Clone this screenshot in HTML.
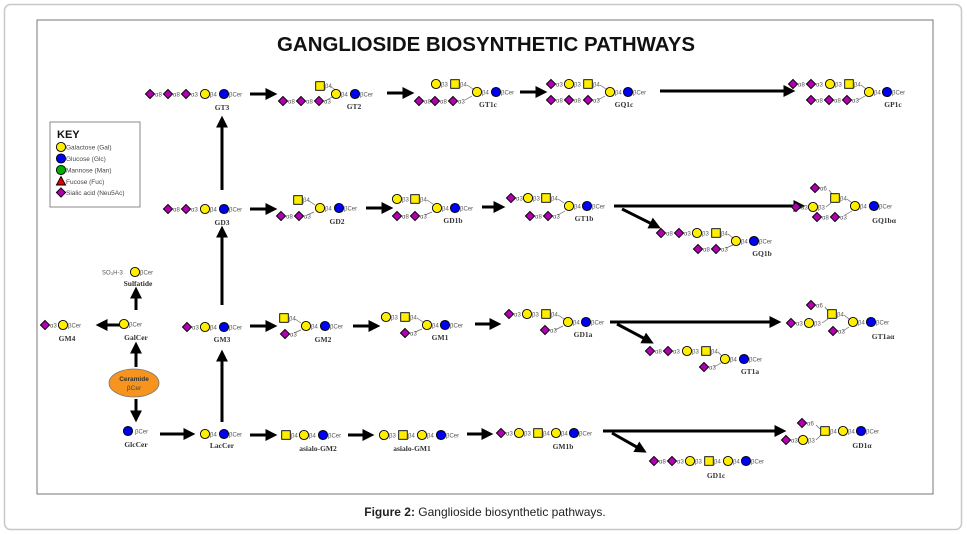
<!DOCTYPE html>
<html><head><meta charset="utf-8"><style>
html,body{margin:0;padding:0;background:#fff;}
svg{display:block;}
.l{font-family:"Liberation Sans",sans-serif;font-size:6px;fill:#555;}
.n{font-family:"Liberation Serif",serif;font-size:7.5px;font-weight:bold;fill:#333;}
.k{font-family:"Liberation Sans",sans-serif;font-size:6.5px;fill:#444;}
.ar{stroke:#000;stroke-width:3;fill:none;marker-end:url(#ah);}
.c{stroke:#666;stroke-width:0.7;fill:none;}
</style></head><body>
<svg width="967" height="534" viewBox="0 0 967 534" xmlns="http://www.w3.org/2000/svg">
<defs>
<marker id="ah" markerWidth="4" markerHeight="4" refX="2.2" refY="2" orient="auto" markerUnits="strokeWidth"><path d="M0,0 L4,2 L0,4 z" fill="#000"/></marker>
<g id="Y"><circle r="4.6" fill="#ffee00" stroke="#000" stroke-width="0.9"/></g>
<g id="B"><circle r="4.6" fill="#0000f0" stroke="#000" stroke-width="0.9"/></g>
<g id="G"><circle r="4.6" fill="#00b000" stroke="#000" stroke-width="0.9"/></g>
<g id="S"><rect x="-4.3" y="-4.3" width="8.6" height="8.6" fill="#ffee00" stroke="#000" stroke-width="0.9"/></g>
<g id="D"><path d="M0,-4.6 L4.6,0 L0,4.6 L-4.6,0 z" fill="#b000b0" stroke="#000" stroke-width="0.9"/></g>
<g id="T"><path d="M0,-4.6 L4.6,4 L-4.6,4 z" fill="#e00000" stroke="#000" stroke-width="0.9"/></g>
</defs>
<rect x="4.5" y="4.5" width="957" height="525" rx="6" fill="#fff" stroke="#c8c8c8" stroke-width="1.5"/>
<rect x="37" y="20" width="896" height="474" fill="#fff" stroke="#777" stroke-width="1"/>
<text x="486" y="51" text-anchor="middle" textLength="418" lengthAdjust="spacingAndGlyphs" font-family="Liberation Sans,sans-serif" font-weight="bold" font-size="20" fill="#111">GANGLIOSIDE BIOSYNTHETIC PATHWAYS</text>
<text x="485" y="516" text-anchor="middle" font-family="Liberation Sans,sans-serif" font-size="12" fill="#222"><tspan font-weight="bold">Figure 2:</tspan> Ganglioside biosynthetic pathways.</text>

<!-- KEY -->
<rect x="50" y="122" width="90" height="85" fill="#fff" stroke="#888" stroke-width="1"/>
<text x="57" y="138" font-family="Liberation Sans,sans-serif" font-weight="bold" font-size="11" fill="#111">KEY</text>
<use href="#Y" x="61" y="147"/><text class="k" x="66" y="149.5">Galactose (Gal)</text>
<use href="#B" x="61" y="158.5"/><text class="k" x="66" y="161">Glucose (Glc)</text>
<use href="#G" x="61" y="170"/><text class="k" x="66" y="172.5">Mannose (Man)</text>
<use href="#T" x="61" y="181"/><text class="k" x="66" y="184">Fucose (Fuc)</text>
<use href="#D" x="61" y="192.5"/><text class="k" x="66" y="195">Sialic acid (Neu5Ac)</text>

<!-- arrows -->
<line class="ar" x1="250" y1="94" x2="272" y2="94"/>
<line class="ar" x1="387" y1="93" x2="409" y2="93"/>
<line class="ar" x1="520" y1="92" x2="542" y2="92"/>
<line class="ar" x1="660" y1="91" x2="790" y2="91"/>
<line class="ar" x1="250" y1="209" x2="272" y2="209"/>
<line class="ar" x1="366" y1="208" x2="388" y2="208"/>
<line class="ar" x1="482" y1="207" x2="500" y2="207"/>
<line class="ar" x1="614" y1="206" x2="800" y2="206"/>
<line class="ar" x1="622" y1="209" x2="656" y2="226"/>
<line class="ar" x1="250" y1="326" x2="272" y2="326"/>
<line class="ar" x1="353" y1="326" x2="375" y2="326"/>
<line class="ar" x1="475" y1="324" x2="496" y2="324"/>
<line class="ar" x1="610" y1="322" x2="776" y2="322"/>
<line class="ar" x1="617" y1="324" x2="649" y2="341"/>
<line class="ar" x1="250" y1="435" x2="272" y2="435"/>
<line class="ar" x1="348" y1="435" x2="369" y2="435"/>
<line class="ar" x1="467" y1="434" x2="488" y2="434"/>
<line class="ar" x1="603" y1="431" x2="781" y2="431"/>
<line class="ar" x1="612" y1="433" x2="642" y2="450"/>
<line class="ar" x1="160" y1="434" x2="190" y2="434"/>
<line class="ar" x1="222" y1="190" x2="222" y2="121"/>
<line class="ar" x1="222" y1="305" x2="222" y2="231"/>
<line class="ar" x1="222" y1="422" x2="222" y2="355"/>
<line class="ar" x1="123" y1="325" x2="101" y2="325"/>
<line class="ar" x1="136" y1="310" x2="136" y2="292"/>
<line class="ar" x1="136" y1="367" x2="136" y2="347"/>
<line class="ar" x1="136" y1="399" x2="136" y2="417"/>

<!-- Ceramide -->
<ellipse cx="134" cy="383" rx="25" ry="14" fill="#f7941d" stroke="#777" stroke-width="0.8"/>
<text x="134" y="381" text-anchor="middle" font-family="Liberation Sans,sans-serif" font-weight="bold" font-size="6.5" fill="#333">Ceramide</text>
<text x="134" y="390" text-anchor="middle" font-family="Liberation Sans,sans-serif" font-size="6.5" fill="#444">βCer</text>

<!-- GT3 -->
<use href="#D" x="150" y="94"/><text class="l" x="155" y="96.5">α8</text>
<use href="#D" x="168" y="94"/><text class="l" x="173" y="96.5">α8</text>
<use href="#D" x="186" y="94"/><text class="l" x="191" y="96.5">α3</text>
<use href="#Y" x="205" y="94"/><text class="l" x="210" y="96.5">β4</text>
<use href="#B" x="224" y="94"/><text class="l" x="229" y="96.5">βCer</text>
<text class="n" x="222" y="110" text-anchor="middle">GT3</text>

<!-- GT2 -->
<use href="#S" x="320" y="86"/><text class="l" x="325" y="88">β4</text>
<path class="c" d="M331,87 L336,90"/><path class="c" d="M325,101 L332,97"/>
<use href="#D" x="283" y="101"/><text class="l" x="288" y="103.5">α8</text>
<use href="#D" x="301" y="101"/><text class="l" x="306" y="103.5">α8</text>
<use href="#D" x="319" y="101"/><text class="l" x="324" y="103.5">α3</text>
<use href="#Y" x="336" y="94"/><text class="l" x="341" y="96.5">β4</text>
<use href="#B" x="355" y="94"/><text class="l" x="360" y="96.5">βCer</text>
<text class="n" x="354" y="109" text-anchor="middle">GT2</text>

<!-- GT1c -->
<use href="#Y" x="436" y="84"/><text class="l" x="441" y="86.5">β3</text>
<use href="#S" x="455" y="84"/><text class="l" x="460" y="86.5">β4</text>
<path class="c" d="M467,85 L473,89"/><path class="c" d="M465,100 L472,96"/>
<use href="#D" x="419" y="101"/><text class="l" x="424" y="103.5">α8</text>
<use href="#D" x="435" y="101"/><text class="l" x="440" y="103.5">α8</text>
<use href="#D" x="453" y="101"/><text class="l" x="458" y="103.5">α3</text>
<use href="#Y" x="477" y="92"/><text class="l" x="482" y="94.5">β4</text>
<use href="#B" x="496" y="92"/><text class="l" x="501" y="94.5">βCer</text>
<text class="n" x="488" y="107" text-anchor="middle">GT1c</text>

<!-- GQ1c -->
<use href="#D" x="551" y="84"/><text class="l" x="556" y="86.5">α3</text>
<use href="#Y" x="569" y="84"/><text class="l" x="574" y="86.5">β3</text>
<use href="#S" x="588" y="84"/><text class="l" x="593" y="86.5">β4</text>
<path class="c" d="M600,85 L606,89"/><path class="c" d="M598,100 L605,96"/>
<use href="#D" x="551" y="100"/><text class="l" x="556" y="102.5">α8</text>
<use href="#D" x="569" y="100"/><text class="l" x="574" y="102.5">α8</text>
<use href="#D" x="588" y="100"/><text class="l" x="593" y="102.5">α3</text>
<use href="#Y" x="610" y="92"/><text class="l" x="615" y="94.5">β4</text>
<use href="#B" x="628" y="92"/><text class="l" x="633" y="94.5">βCer</text>
<text class="n" x="624" y="107" text-anchor="middle">GQ1c</text>

<!-- GP1c -->
<use href="#D" x="793" y="84"/><text class="l" x="798" y="86.5">α8</text>
<use href="#D" x="811" y="84"/><text class="l" x="816" y="86.5">α3</text>
<use href="#Y" x="830" y="84"/><text class="l" x="835" y="86.5">β3</text>
<use href="#S" x="849" y="84"/><text class="l" x="854" y="86.5">β4</text>
<path class="c" d="M861,85 L866,89"/><path class="c" d="M858,100 L865,96"/>
<use href="#D" x="811" y="100"/><text class="l" x="816" y="102.5">α8</text>
<use href="#D" x="829" y="100"/><text class="l" x="834" y="102.5">α8</text>
<use href="#D" x="847" y="100"/><text class="l" x="852" y="102.5">α3</text>
<use href="#Y" x="869" y="92"/><text class="l" x="874" y="94.5">β4</text>
<use href="#B" x="887" y="92"/><text class="l" x="892" y="94.5">βCer</text>
<text class="n" x="893" y="107" text-anchor="middle">GP1c</text>

<!-- GD3 -->
<use href="#D" x="168" y="209"/><text class="l" x="173" y="211.5">α8</text>
<use href="#D" x="186" y="209"/><text class="l" x="191" y="211.5">α3</text>
<use href="#Y" x="205" y="209"/><text class="l" x="210" y="211.5">β4</text>
<use href="#B" x="224" y="209"/><text class="l" x="229" y="211.5">βCer</text>
<text class="n" x="222" y="225" text-anchor="middle">GD3</text>

<!-- GD2 -->
<use href="#S" x="298" y="200"/><text class="l" x="303" y="202">β4</text>
<path class="c" d="M309,201 L315,205"/><path class="c" d="M307,215 L314,212"/>
<use href="#D" x="281" y="216"/><text class="l" x="286" y="218.5">α8</text>
<use href="#D" x="299" y="216"/><text class="l" x="304" y="218.5">α3</text>
<use href="#Y" x="320" y="208"/><text class="l" x="325" y="210.5">β4</text>
<use href="#B" x="339" y="208"/><text class="l" x="344" y="210.5">βCer</text>
<text class="n" x="337" y="224" text-anchor="middle">GD2</text>

<!-- GD1b -->
<use href="#Y" x="397" y="199"/><text class="l" x="402" y="201.5">β3</text>
<use href="#S" x="415" y="199"/><text class="l" x="420" y="201.5">β4</text>
<path class="c" d="M427,200 L433,204"/><path class="c" d="M425,215 L432,212"/>
<use href="#D" x="397" y="216"/><text class="l" x="402" y="218.5">α8</text>
<use href="#D" x="415" y="216"/><text class="l" x="420" y="218.5">α3</text>
<use href="#Y" x="437" y="208"/><text class="l" x="442" y="210.5">β4</text>
<use href="#B" x="455" y="208"/><text class="l" x="460" y="210.5">βCer</text>
<text class="n" x="453" y="223" text-anchor="middle">GD1b</text>

<!-- GT1b -->
<use href="#D" x="511" y="198"/><text class="l" x="516" y="200.5">α3</text>
<use href="#Y" x="528" y="198"/><text class="l" x="533" y="200.5">β3</text>
<use href="#S" x="546" y="198"/><text class="l" x="551" y="200.5">β4</text>
<path class="c" d="M558,199 L564,203"/><path class="c" d="M558,215 L565,211"/>
<use href="#D" x="530" y="216"/><text class="l" x="535" y="218.5">α8</text>
<use href="#D" x="548" y="216"/><text class="l" x="553" y="218.5">α3</text>
<use href="#Y" x="569" y="206"/><text class="l" x="574" y="208.5">β4</text>
<use href="#B" x="587" y="206"/><text class="l" x="592" y="208.5">βCer</text>
<text class="n" x="584" y="221" text-anchor="middle">GT1b</text>

<!-- GQ1b -->
<use href="#D" x="661" y="233"/><text class="l" x="666" y="235.5">α8</text>
<use href="#D" x="679" y="233"/><text class="l" x="684" y="235.5">α3</text>
<use href="#Y" x="697" y="233"/><text class="l" x="702" y="235.5">β3</text>
<use href="#S" x="716" y="233"/><text class="l" x="721" y="235.5">β4</text>
<path class="c" d="M728,234 L733,238"/><path class="c" d="M726,248 L733,245"/>
<use href="#D" x="698" y="249"/><text class="l" x="703" y="251.5">α8</text>
<use href="#D" x="716" y="249"/><text class="l" x="721" y="251.5">α3</text>
<use href="#Y" x="736" y="241"/><text class="l" x="741" y="243.5">β4</text>
<use href="#B" x="754" y="241"/><text class="l" x="759" y="243.5">βCer</text>
<text class="n" x="762" y="256" text-anchor="middle">GQ1b</text>

<!-- GQ1bα -->
<use href="#D" x="815" y="188"/><text class="l" x="820" y="190.5">α6</text>
<path class="c" d="M829,190 L832,194"/>
<use href="#D" x="796" y="207"/><text class="l" x="801" y="209.5">α3</text>
<use href="#Y" x="813" y="207"/><text class="l" x="818" y="209.5">β3</text>
<path class="c" d="M826,207 L831,203"/>
<use href="#S" x="835" y="198"/><text class="l" x="840" y="200.5">β4</text>
<path class="c" d="M847,199 L852,203"/><path class="c" d="M845,215 L852,211"/>
<use href="#D" x="817" y="217"/><text class="l" x="822" y="219.5">α8</text>
<use href="#D" x="835" y="217"/><text class="l" x="840" y="219.5">α3</text>
<use href="#Y" x="855" y="206"/><text class="l" x="860" y="208.5">β4</text>
<use href="#B" x="874" y="206"/><text class="l" x="879" y="208.5">βCer</text>
<text class="n" x="884" y="223" text-anchor="middle">GQ1bα</text>

<!-- Sulfatide / GalCer / GM4 -->
<text class="l" x="102" y="274.5">SO₃H-3</text>
<use href="#Y" x="135" y="272"/><text class="l" x="140" y="274.5">βCer</text>
<text class="n" x="138" y="286" text-anchor="middle">Sulfatide</text>
<use href="#Y" x="124" y="324"/><text class="l" x="129" y="326.5">βCer</text>
<text class="n" x="136" y="340" text-anchor="middle">GalCer</text>
<use href="#D" x="45" y="325"/><text class="l" x="50" y="327.5">α3</text>
<use href="#Y" x="63" y="325"/><text class="l" x="68" y="327.5">βCer</text>
<text class="n" x="67" y="341" text-anchor="middle">GM4</text>

<!-- GlcCer / LacCer -->
<use href="#B" x="128" y="431"/><text class="l" x="135" y="433.5">βCer</text>
<text class="n" x="136" y="447" text-anchor="middle">GlcCer</text>
<use href="#Y" x="205" y="434"/><text class="l" x="210" y="436.5">β4</text>
<use href="#B" x="224" y="434"/><text class="l" x="229" y="436.5">βCer</text>
<text class="n" x="222" y="448" text-anchor="middle">LacCer</text>

<!-- GM3 -->
<use href="#D" x="187" y="327"/><text class="l" x="192" y="329.5">α3</text>
<use href="#Y" x="205" y="327"/><text class="l" x="210" y="329.5">β4</text>
<use href="#B" x="224" y="327"/><text class="l" x="229" y="329.5">βCer</text>
<text class="n" x="222" y="342" text-anchor="middle">GM3</text>

<!-- GM2 -->
<use href="#S" x="284" y="318"/><text class="l" x="289" y="320.5">β4</text>
<path class="c" d="M295,319 L301,323"/><path class="c" d="M294,333 L301,330"/>
<use href="#D" x="285" y="334"/><text class="l" x="290" y="336.5">α3</text>
<use href="#Y" x="306" y="326"/><text class="l" x="311" y="328.5">β4</text>
<use href="#B" x="325" y="326"/><text class="l" x="330" y="328.5">βCer</text>
<text class="n" x="323" y="342" text-anchor="middle">GM2</text>

<!-- GM1 -->
<use href="#Y" x="386" y="317"/><text class="l" x="391" y="319.5">β3</text>
<use href="#S" x="405" y="317"/><text class="l" x="410" y="319.5">β4</text>
<path class="c" d="M417,318 L423,322"/><path class="c" d="M415,332 L422,329"/>
<use href="#D" x="405" y="333"/><text class="l" x="410" y="335.5">α3</text>
<use href="#Y" x="427" y="325"/><text class="l" x="432" y="327.5">β4</text>
<use href="#B" x="445" y="325"/><text class="l" x="450" y="327.5">βCer</text>
<text class="n" x="440" y="340" text-anchor="middle">GM1</text>

<!-- GD1a -->
<use href="#D" x="509" y="314"/><text class="l" x="514" y="316.5">α3</text>
<use href="#Y" x="527" y="314"/><text class="l" x="532" y="316.5">β3</text>
<use href="#S" x="546" y="314"/><text class="l" x="551" y="316.5">β4</text>
<path class="c" d="M558,315 L564,319"/><path class="c" d="M555,330 L563,326"/>
<use href="#D" x="545" y="330"/><text class="l" x="550" y="332.5">α3</text>
<use href="#Y" x="568" y="322"/><text class="l" x="573" y="324.5">β4</text>
<use href="#B" x="586" y="322"/><text class="l" x="591" y="324.5">βCer</text>
<text class="n" x="583" y="337" text-anchor="middle">GD1a</text>

<!-- GT1a -->
<use href="#D" x="650" y="351"/><text class="l" x="655" y="353.5">α8</text>
<use href="#D" x="668" y="351"/><text class="l" x="673" y="353.5">α3</text>
<use href="#Y" x="687" y="351"/><text class="l" x="692" y="353.5">β3</text>
<use href="#S" x="706" y="351"/><text class="l" x="711" y="353.5">β4</text>
<path class="c" d="M718,352 L722,356"/><path class="c" d="M714,367 L721,363"/>
<use href="#D" x="704" y="367"/><text class="l" x="709" y="369.5">α3</text>
<use href="#Y" x="725" y="359"/><text class="l" x="730" y="361.5">β4</text>
<use href="#B" x="744" y="359"/><text class="l" x="749" y="361.5">βCer</text>
<text class="n" x="750" y="374" text-anchor="middle">GT1a</text>

<!-- GT1aα -->
<use href="#D" x="811" y="305"/><text class="l" x="816" y="307.5">α6</text>
<path class="c" d="M825,307 L828,311"/>
<use href="#D" x="791" y="323"/><text class="l" x="796" y="325.5">α3</text>
<use href="#Y" x="809" y="323"/><text class="l" x="814" y="325.5">β3</text>
<path class="c" d="M822,323 L828,319"/>
<use href="#S" x="832" y="314"/><text class="l" x="837" y="316.5">β4</text>
<path class="c" d="M844,315 L849,319"/><path class="c" d="M843,331 L849,327"/>
<use href="#D" x="833" y="331"/><text class="l" x="838" y="333.5">α3</text>
<use href="#Y" x="853" y="322"/><text class="l" x="858" y="324.5">β4</text>
<use href="#B" x="871" y="322"/><text class="l" x="876" y="324.5">βCer</text>
<text class="n" x="883" y="339" text-anchor="middle">GT1aα</text>

<!-- asialo-GM2 -->
<use href="#S" x="286" y="435"/><text class="l" x="291" y="437.5">β4</text>
<use href="#Y" x="304" y="435"/><text class="l" x="309" y="437.5">β4</text>
<use href="#B" x="323" y="435"/><text class="l" x="328" y="437.5">βCer</text>
<text class="n" x="318" y="451" text-anchor="middle">asialo-GM2</text>

<!-- asialo-GM1 -->
<use href="#Y" x="384" y="435"/><text class="l" x="389" y="437.5">β3</text>
<use href="#S" x="403" y="435"/><text class="l" x="408" y="437.5">β4</text>
<use href="#Y" x="422" y="435"/><text class="l" x="427" y="437.5">β4</text>
<use href="#B" x="441" y="435"/><text class="l" x="446" y="437.5">βCer</text>
<text class="n" x="412" y="451" text-anchor="middle">asialo-GM1</text>

<!-- GM1b -->
<use href="#D" x="501" y="433"/><text class="l" x="506" y="435.5">α3</text>
<use href="#Y" x="519" y="433"/><text class="l" x="524" y="435.5">β3</text>
<use href="#S" x="538" y="433"/><text class="l" x="543" y="435.5">β4</text>
<use href="#Y" x="556" y="433"/><text class="l" x="561" y="435.5">β4</text>
<use href="#B" x="574" y="433"/><text class="l" x="579" y="435.5">βCer</text>
<text class="n" x="563" y="449" text-anchor="middle">GM1b</text>

<!-- GD1c -->
<use href="#D" x="654" y="461"/><text class="l" x="659" y="463.5">α8</text>
<use href="#D" x="672" y="461"/><text class="l" x="677" y="463.5">α3</text>
<use href="#Y" x="690" y="461"/><text class="l" x="695" y="463.5">β3</text>
<use href="#S" x="709" y="461"/><text class="l" x="714" y="463.5">β4</text>
<use href="#Y" x="728" y="461"/><text class="l" x="733" y="463.5">β4</text>
<use href="#B" x="746" y="461"/><text class="l" x="751" y="463.5">βCer</text>
<text class="n" x="716" y="478" text-anchor="middle">GD1c</text>

<!-- GD1α -->
<use href="#D" x="802" y="423"/><text class="l" x="807" y="425.5">α6</text>
<path class="c" d="M816,425 L820,429"/>
<use href="#D" x="786" y="440"/><text class="l" x="791" y="442.5">α3</text>
<use href="#Y" x="803" y="440"/><text class="l" x="808" y="442.5">β3</text>
<path class="c" d="M816,440 L821,435"/>
<use href="#S" x="825" y="431"/><text class="l" x="830" y="433.5">β4</text>
<use href="#Y" x="843" y="431"/><text class="l" x="848" y="433.5">β4</text>
<use href="#B" x="861" y="431"/><text class="l" x="866" y="433.5">βCer</text>
<text class="n" x="862" y="448" text-anchor="middle">GD1α</text>
</svg>
</body></html>
